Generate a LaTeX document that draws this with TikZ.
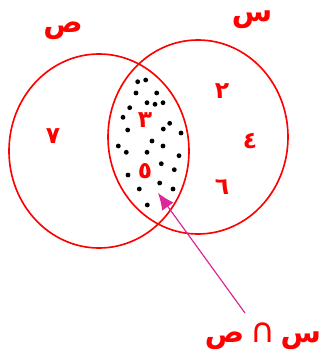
\documentclass[tikz,border=0pt]{standalone}
\usepackage{fontspec}
\newfontfamily\arabicfont[Script=Arabic]{DejaVu Sans}
\TeXXeTstate=1
\usetikzlibrary{arrows.meta,shapes.geometric}
\definecolor{setred}{RGB}{255,0,0}
\definecolor{arrpink}{RGB}{222,38,150}

\begin{document}
\begin{tikzpicture}[x=0.3mm, y=-0.3mm,
    setc/.style={draw=setred, line width=1.4pt, ellipse, minimum width=54mm, minimum height=58.2mm, inner sep=0pt},
    num/.style={text=setred, inner sep=0pt, font=\arabicfont\bfseries\fontsize{20}{20}\selectfont},
    ttl/.style={text=setred, inner sep=0pt, font=\arabicfont\bfseries\fontsize{25}{25}\selectfont},
    elm/.style={fill=black, circle, inner sep=0pt, minimum size=1.45mm},
    arr/.style={-{Latex[length=5mm, width=4.2mm]}, draw=arrpink, fill=arrpink, line width=1pt}
]
\useasboundingbox (0,0) rectangle (320,361);

% the two sets
\node[setc] (setP) at (99,151) {};
\node[setc] (setS) at (198,137) {};
\node[ttl] (nameP) at (63,31) {ص};
\node[ttl] (nameS) at (252,20) {س};

% elements
\node[num] (e7) at (53,136) {٧};
\node[num] (e2) at (222,91) {٢};
\node[num] (e4) at (250,141) {٤};
\node[num] (e6) at (222,187) {٦};
\node[num] (e3) at (145,120) {٣};
\node[num] (e5) at (145,171) {٥};

% shaded intersection
\foreach \px/\py in {137.7/81.7, 145.7/80, 136/93, 156.7/93, 147/102.7, 155/104.3,
    163/102.7, 129.7/107.7, 123/117.3, 169.7/123.3, 127.7/130, 163.3/129,
    181/133, 152/141, 118.3/146, 126.3/152.3, 147/152.3, 163/146, 179/155.7,
    161.3/163.7, 174.3/169.7, 128/175, 159.7/183, 139.3/189, 173/189, 147.3/205}
  \node[elm] at (\px,\py) {};

% intersection label
\node[ttl] (inter) at (263,336) {\beginR س{\mdseries\fontsize{29}{29}\selectfont\,∩\,}ص\endR};
\coordinate (tail) at (245,313);
\coordinate (tip) at (158,193);
\draw[arr] (tail) -- (tip);
\end{tikzpicture}
\end{document}
